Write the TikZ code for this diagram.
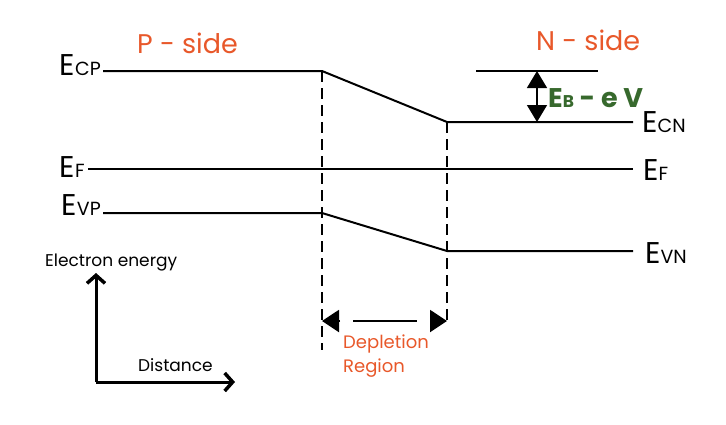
\documentclass[tikz,border=0pt]{standalone}
\usepackage{fontspec}
\setmainfont{Poppins}
\usetikzlibrary{arrows.meta}
\definecolor{sidetext}{RGB}{232,88,42}
\definecolor{gaptext}{RGB}{55,105,45}
\newcommand{\elev}[1]{{\fontsize{30}{30}\selectfont E}{\fontsize{19}{19}\selectfont #1}}

\begin{document}
\begin{tikzpicture}[x=1pt,y=-1pt,
  band/.style={line width=2pt},
  bound/.style={line width=2.2pt,dash pattern=on 11pt off 6pt},
  lab/.style={inner sep=0pt},
  side/.style={inner sep=0pt,text=sidetext,font=\fontsize{27}{27}\selectfont},
  axis/.style={line width=3pt,-{Straight Barb[length=8pt,width=18pt,line width=3.5pt]}},
  head/.style={line width=2pt,-{Triangle[length=17pt,width=22pt]}},
  small/.style={inner sep=0pt,font=\fontsize{17}{17}\selectfont}]
\useasboundingbox (0,0) rectangle (726,424);
%\draw (0,0) grid (726,424);

% band edges
\coordinate (cp) at (103,71); \coordinate (cpend) at (322,71);
\coordinate (cnbeg) at (447,122); \coordinate (cn) at (633,122);
\coordinate (vp) at (103,213); \coordinate (vpend) at (322,213);
\coordinate (vnbeg) at (447,251); \coordinate (vn) at (633,251);
\coordinate (fl) at (88,169); \coordinate (fr) at (633,169);
\coordinate (refl) at (476,71); \coordinate (refr) at (598,71);

\draw [band] (cp) -- (cpend) -- (cnbeg) -- (cn);
\draw [band] (vp) -- (vpend) -- (vnbeg) -- (vn);
\draw [band] (fl) -- (fr);
\draw [band] (refl) -- (refr);

\node [lab,anchor=base east] (ecp) at (101,75) {\elev{CP}};
\node [lab,anchor=base west] (ecn) at (642,132) {\elev{CN}};
\node [lab,anchor=base east] (efl) at (85,177) {\elev{F}};
\node [lab,anchor=base west] (efr) at (643,180) {\elev{F}};
\node [lab,anchor=base east] (evp) at (101,215) {\elev{VP}};
\node [lab,anchor=base west] (evn) at (645,263) {\elev{VN}};

\node [side,anchor=base west] (pside) at (137,53) {P - side};
\node [side,anchor=base west] (nside) at (536,50) {N - side};

% barrier height
\coordinate (bt) at (537,71); \coordinate (bb) at (537,122);
\draw [line width=1.5pt,{Triangle[length=17pt,width=20pt]}-{Triangle[length=17pt,width=20pt]}] (bt) -- (bb);
\node [lab,anchor=base west,text=gaptext] (gap) at (548,107) {\fontsize{27}{27}\selectfont\bfseries E{\fontsize{17}{17}\selectfont B} - e V};

% depletion region
\coordinate (dl) at (322,350); \coordinate (dr) at (447,326);
\draw [bound] (cpend) -- (dl);
\draw [bound] (cnbeg) -- (dr);
\coordinate (al) at (322,321); \coordinate (ar) at (447,321);
\coordinate (alb) at (340,321); \coordinate (arb) at (430,321);
\coordinate (ml) at (353,321); \coordinate (mr) at (417,321);
\draw [head] (alb) -- (al);
\draw [head] (arb) -- (ar);
\draw [line width=2pt] (ml) -- (mr);
\node [lab,anchor=north west,align=left,text=sidetext,font=\fontsize{18}{24}\selectfont] (dep) at (343,335) {Depletion\\Region};

% axes
\coordinate (o) at (96,382); \coordinate (ey) at (96,273); \coordinate (dx) at (235,382);
\draw [axis] (o) -- (ey);
\draw [axis] (o) -- (dx);
\node [small,anchor=base west] (energy) at (45,266) {Electron energy};
\node [small,anchor=base west] (dist) at (138,371) {Distance};
\end{tikzpicture}
\end{document}
